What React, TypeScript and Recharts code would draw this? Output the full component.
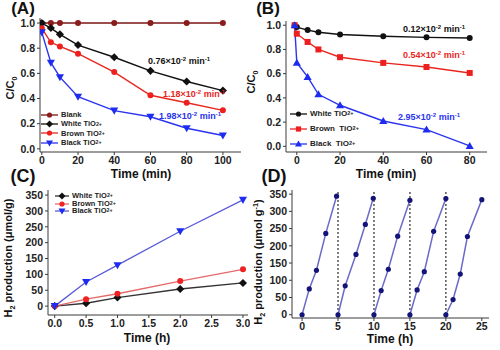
import React from 'react'
import { LineChart, Line, XAxis, YAxis, ReferenceLine } from 'recharts'

const FONT = '"Liberation Sans", Arial, Helvetica, sans-serif'
const AXIS = '#3a3a3a'

// (A) degradation under light, with a blank run
const timeA = [0, 5, 10, 20, 40, 60, 80, 100]
const blankA = [1, 1, 1, 1, 1, 1, 1, 1]
const whiteA = [1.0, 0.96, 0.91, 0.825, 0.728, 0.62, 0.535, 0.463]
const brownA = [0.958, 0.847, 0.814, 0.756, 0.61, 0.426, 0.366, 0.306]
const blackA = [0.926, 0.685, 0.57, 0.415, 0.304, 0.255, 0.164, 0.106]
const ratesA = ['0.76', '1.18', '1.98']

// (B) second degradation test
const timeB = [-1, 0, 5, 10, 20, 40, 60, 80]
const whiteB = [1.0, 0.985, 0.96, 0.942, 0.923, 0.909, 0.9, 0.895]
const brownB = [1.0, 0.93, 0.862, 0.8, 0.736, 0.689, 0.655, 0.606]
const blackB = [1.0, 0.69, 0.573, 0.43, 0.339, 0.209, 0.138, 0.003]
const ratesB = ['0.12', '0.54', '2.95']

// (C) hydrogen evolution
const timeC = [0, 0.5, 1, 2, 3]
const whiteC = [0, 9, 27, 54, 73]
const brownC = [0, 22, 39, 79, 116]
const blackC = [0, 76, 129, 236, 335]

// (D) cycling, black TiO2+
const cycleTimes = [
  [0, 1, 2, 3.3, 4.8],
  [5, 6, 7.5, 8.8, 9.9],
  [10, 11, 12, 13.3, 15],
  [15, 16, 17, 18.3, 20],
  [20, 21, 22, 23, 25],
]
const cycleH2 = [
  [0, 75, 129, 236, 344],
  [0, 84, 175, 262, 338],
  [0, 70, 132, 228, 332],
  [0, 72, 125, 242, 337],
  [0, 44, 118, 227, 334],
]
const cycleBreaks = [5, 10, 15, 20]

const ticksA = [0, 20, 40, 60, 80, 100]
const ticksB = [0, 20, 40, 60, 80]
const ticksRatio = [0, 0.2, 0.4, 0.6, 0.8, 1.0]
const ticksC = [0, 0.5, 1, 1.5, 2, 2.5, 3]
const ticksD = [0, 5, 10, 15, 20, 25]
const ticksH2 = [0, 50, 100, 150, 200, 250, 300, 350]

const dataA = timeA.map((t, i) => ({ t, blank: blankA[i], white: whiteA[i], brown: brownA[i], black: blackA[i] }))
const dataB = timeB.map((t, i) => ({ t, white: whiteB[i], brown: brownB[i], black: blackB[i] }))
const dataC = timeC.map((t, i) => ({ t, white: whiteC[i], brown: brownC[i], black: blackC[i] }))
const dataD = cycleTimes.map((ts, c) => ts.map((t, i) => ({ t, h: cycleH2[c][i] })))

type Shape = 'circle' | 'square' | 'diamond' | 'up' | 'down'
type Series = { key: string; name: string; line: string; fill: string; shape: Shape }

const seriesA: Series[] = [
  { key: 'blank', name: 'Blank', line: '#7a1414', fill: '#8a1c1c', shape: 'circle' },
  { key: 'white', name: 'White TiO2+', line: '#111', fill: '#111', shape: 'diamond' },
  { key: 'brown', name: 'Brown TiO2+', line: '#e8261f', fill: '#ee1f1f', shape: 'circle' },
  { key: 'black', name: 'Black TiO2+', line: '#2a34ee', fill: '#1e2cf0', shape: 'down' },
]
const seriesB: Series[] = [
  { key: 'white', name: 'White TiO2+', line: '#111', fill: '#111', shape: 'circle' },
  { key: 'brown', name: 'Brown  TiO2+', line: '#e8261f', fill: '#ee1f1f', shape: 'square' },
  { key: 'black', name: 'Black  TiO2+', line: '#2a34ee', fill: '#1e2cf0', shape: 'up' },
]
const seriesC: Series[] = [
  { key: 'white', name: 'White TiO2+', line: '#333', fill: '#111', shape: 'diamond' },
  { key: 'brown', name: 'Brown TiO2+', line: '#e46a6a', fill: '#ee2222', shape: 'circle' },
  { key: 'black', name: 'Black TiO2+', line: '#5a5ad6', fill: '#1e2cf0', shape: 'down' },
]

function Marker({ cx, cy, shape, color, r = 3 }: { cx?: number; cy?: number; shape: Shape; color: string; r?: number }) {
  if (cx == null || cy == null) return null
  const d = r * 1.35
  if (shape === 'circle') return <circle cx={cx} cy={cy} r={r} fill={color} />
  if (shape === 'square') return <rect x={cx - r} y={cy - r} width={r * 2} height={r * 2} fill={color} />
  if (shape === 'diamond')
    return <polygon points={`${cx},${cy - d} ${cx + d},${cy} ${cx},${cy + d} ${cx - d},${cy}`} fill={color} />
  if (shape === 'up')
    return <polygon points={`${cx},${cy - d} ${cx + d},${cy + r} ${cx - d},${cy + r}`} fill={color} />
  return <polygon points={`${cx},${cy + d} ${cx + d},${cy - r} ${cx - d},${cy - r}`} fill={color} />
}

function SeriesName({ text }: { text: string }) {
  if (!text.endsWith('2+')) return <>{text}</>
  return (
    <>
      {text.slice(0, -2)}
      <sub style={{ fontSize: '0.7em', verticalAlign: -2 }}>2+</sub>
    </>
  )
}

function Legend({ items, x, y, gap, lineLen, fontSize }: { items: Series[]; x: number; y: number; gap: number; lineLen: number; fontSize: number }) {
  return (
    <>
      {items.map((s, i) => (
        <div key={s.key} style={{ position: 'absolute', left: x, top: y + i * gap - 5, height: 10, display: 'flex', alignItems: 'center', fontSize, fontWeight: 700, color: '#222', whiteSpace: 'pre', lineHeight: 1 }}>
          <svg width={lineLen} height={10} style={{ marginRight: 3 }}>
            <line x1={0} y1={5} x2={lineLen} y2={5} stroke={s.line} strokeWidth={1.3} />
            <Marker cx={lineLen / 2} cy={5} shape={s.shape} color={s.fill} r={2.6} />
          </svg>
          <SeriesName text={s.name} />
        </div>
      ))}
    </>
  )
}

function Rate({ value, color, x, y }: { value: string; color: string; x: number; y: number }) {
  const sup = { fontSize: 6, position: 'relative' as const, top: -3 }
  return (
    <div style={{ position: 'absolute', left: x, top: y - 5, color, fontSize: 9, fontWeight: 700, whiteSpace: 'nowrap', lineHeight: 1 }}>
      {value}×10<span style={sup}>-2</span> min<span style={sup}>-1</span>
    </div>
  )
}

function Label({ x, y, size, rotate, children }: { x: number; y: number; size: number; rotate?: boolean; children: React.ReactNode }) {
  return (
    <div style={{ position: 'absolute', left: x, top: y, transform: `translate(-50%, -50%)${rotate ? ' rotate(-90deg)' : ''}`, fontSize: size, fontWeight: 700, color: '#111', whiteSpace: 'nowrap', lineHeight: 1 }}>
      {children}
    </div>
  )
}

const tickStyle = { fontSize: 10.5, fontWeight: 700, fill: '#222', fontFamily: FONT }
const sub = { fontSize: '0.65em', verticalAlign: -3 }

export default function App() {
  const dot = (s: Series, r = 3) => (p: any) => (
    <Marker key={`${s.key}-${p.index}`} cx={p.cx} cy={p.cy} shape={s.shape} color={s.fill} r={r} />
  )
  const xA: [number, number] = [-1, 110]
  const yA: [number, number] = [-0.025, 1.04]
  const xB: [number, number] = [-5, 88]
  const yB: [number, number] = [-0.047, 1.035]
  const xC: [number, number] = [-0.107, 3.08]
  const yC: [number, number] = [-28, 366]
  const xD: [number, number] = [-1.4, 26]
  const yD: [number, number] = [-9.5, 362]

  // plain top and right axes close the box round each plot
  const frame = (xd: [number, number], yd: [number, number]) => [
    <XAxis key="fx" xAxisId="top" orientation="top" type="number" domain={xd} allowDataOverflow tick={false} tickLine={false} height={0} stroke={AXIS} />,
    <YAxis key="fy" yAxisId="right" orientation="right" type="number" domain={yd} allowDataOverflow tick={false} tickLine={false} width={0} stroke={AXIS} />,
  ]
  const axisProps = { type: 'number' as const, allowDataOverflow: true, interval: 0 as const, tickSize: 3, stroke: AXIS, tick: tickStyle }
  const oneDecimal = (v: number) => v.toFixed(1)

  return (
    <div style={{ position: 'absolute', left: 0, top: 0, width: 500, height: 350, background: '#fff', fontFamily: FONT, overflow: 'hidden' }}>
      {/* A */}
      <div style={{ position: 'absolute', left: 0, top: 0 }}>
        <LineChart width={250} height={175} data={dataA} margin={{ top: 18, right: 9, bottom: 3, left: 0 }}>
          <XAxis dataKey="t" {...axisProps} domain={xA} ticks={ticksA} height={20} />
          <YAxis {...axisProps} domain={yA} ticks={ticksRatio} width={40} tickFormatter={oneDecimal} />
          {frame(xA, yA)}
          {seriesA.map(s => (
            <Line key={s.key} dataKey={s.key} stroke={s.line} strokeWidth={1.4} dot={dot(s)} isAnimationActive={false} />
          ))}
        </LineChart>
      </div>
      {/* B */}
      <div style={{ position: 'absolute', left: 250, top: 0 }}>
        <LineChart width={250} height={175} data={dataB} margin={{ top: 21, right: 13, bottom: 3, left: 0 }}>
          <XAxis dataKey="t" {...axisProps} domain={xB} ticks={ticksB} height={20} />
          <YAxis {...axisProps} domain={yB} ticks={ticksRatio} width={36} tickFormatter={oneDecimal} />
          {frame(xB, yB)}
          {seriesB.map(s => (
            <Line key={s.key} dataKey={s.key} stroke={s.line} strokeWidth={1.4} dot={dot(s)} isAnimationActive={false} />
          ))}
        </LineChart>
      </div>
      {/* C */}
      <div style={{ position: 'absolute', left: 0, top: 175 }}>
        <LineChart width={250} height={175} data={dataC} margin={{ top: 15, right: 2, bottom: 15, left: 0 }}>
          <XAxis dataKey="t" {...axisProps} domain={xC} ticks={ticksC} height={20} tickFormatter={oneDecimal} />
          <YAxis {...axisProps} domain={yC} ticks={ticksH2} width={48} />
          {frame(xC, yC)}
          {seriesC.map(s => (
            <Line key={s.key} dataKey={s.key} stroke={s.line} strokeWidth={1.3} dot={dot(s)} isAnimationActive={false} />
          ))}
        </LineChart>
      </div>
      {/* D */}
      <div style={{ position: 'absolute', left: 250, top: 175 }}>
        <LineChart width={250} height={175} margin={{ top: 15, right: 11, bottom: 12, left: 0 }}>
          <XAxis dataKey="t" {...axisProps} domain={xD} ticks={ticksD} height={20} />
          <YAxis {...axisProps} domain={yD} ticks={ticksH2} width={42} />
          {frame(xD, yD)}
          {cycleBreaks.map(b => (
            <ReferenceLine key={b} x={b} stroke="#555" strokeWidth={1.5} strokeDasharray="2 2" />
          ))}
          {dataD.map((c, i) => (
            <Line key={i} data={c} dataKey="h" stroke="#6a6ac8" strokeWidth={1.5} dot={(p: any) => <Marker key={`d${i}-${p.index}`} cx={p.cx} cy={p.cy} shape="circle" color="#141478" r={2.6} />} isAnimationActive={false} />
          ))}
        </LineChart>
      </div>

      {/* panel letters */}
      <Label x={23} y={8} size={17}>(A)</Label>
      <Label x={268} y={8} size={17}>(B)</Label>
      <Label x={23} y={176} size={18}>(C)</Label>
      <Label x={274} y={176} size={18}>(D)</Label>

      {/* axis titles */}
      <Label x={12} y={88} size={11} rotate>C/C<sub style={sub}>0</sub></Label>
      <Label x={253} y={82} size={11} rotate>C/C<sub style={sub}>0</sub></Label>
      <Label x={141} y={174} size={12}>Time (min)</Label>
      <Label x={386} y={174} size={12}>Time (min)</Label>
      <Label x={10} y={258} size={11} rotate>H<sub style={sub}>2</sub> production (μmol/g)</Label>
      <Label x={147} y={338} size={12}>Time (h)</Label>
      <Label x={260} y={262} size={11} rotate>H<sub style={sub}>2</sub> production (μmol g<sup style={{ fontSize: '0.65em' }}>-1</sup>)</Label>
      <Label x={390} y={339} size={12}>Time (h)</Label>

      {/* legends */}
      <Legend items={seriesA} x={41} y={115} gap={9.2} lineLen={17} fontSize={7.5} />
      <Legend items={seriesB} x={290} y={114} gap={15} lineLen={17} fontSize={8} />
      <Legend items={seriesC} x={55} y={196} gap={7.5} lineLen={14} fontSize={7.5} />

      {/* rate constants */}
      <Rate value={ratesA[0]} color="#111" x={148} y={62} />
      <Rate value={ratesA[1]} color="#e8261f" x={163} y={95} />
      <Rate value={ratesA[2]} color="#2a34ee" x={159} y={117} />
      <Rate value={ratesB[0]} color="#111" x={403} y={30} />
      <Rate value={ratesB[1]} color="#e8261f" x={403} y={56} />
      <Rate value={ratesB[2]} color="#2a34ee" x={398} y={118} />
    </div>
  )
}
